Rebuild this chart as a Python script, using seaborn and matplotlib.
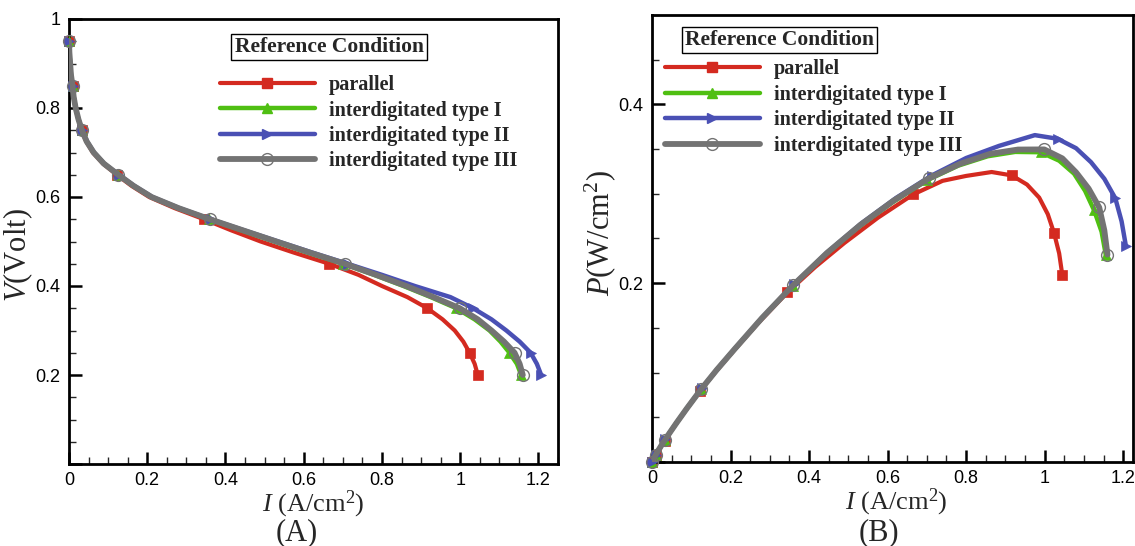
import matplotlib
matplotlib.use("Agg")
import matplotlib.pyplot as plt
from matplotlib.lines import Line2D
from matplotlib.ticker import MultipleLocator, FuncFormatter
import seaborn as sns

# data
#--------------------------------------
volt = [0.95, 0.925, 0.90, 0.875, 0.85, 0.825, 0.80, 0.775, 0.75, 0.725,
        0.70, 0.675, 0.65, 0.625, 0.60, 0.575, 0.55, 0.525, 0.50, 0.475,
        0.45, 0.425, 0.40, 0.375, 0.35, 0.325, 0.30, 0.275, 0.25, 0.225, 0.20]
marker_volt = [0.95, 0.85, 0.75, 0.65, 0.55, 0.45, 0.35, 0.25, 0.20]

cur_parallel = [0.0, 0.001, 0.003, 0.005, 0.009, 0.012, 0.017, 0.024, 0.032, 0.044,
                0.061, 0.087, 0.122, 0.16, 0.205, 0.27, 0.345, 0.415, 0.49, 0.575,
                0.665, 0.74, 0.80, 0.865, 0.916, 0.955, 0.986, 1.008, 1.024, 1.037, 1.045]
cur_type1 = [0.0, 0.001, 0.003, 0.005, 0.009, 0.012, 0.017, 0.024, 0.033, 0.045,
             0.063, 0.089, 0.125, 0.164, 0.21, 0.278, 0.358, 0.44, 0.525, 0.61,
             0.70, 0.78, 0.855, 0.925, 0.99, 1.037, 1.075, 1.103, 1.126, 1.145, 1.156]
cur_type2 = [0.0, 0.001, 0.003, 0.005, 0.009, 0.012, 0.017, 0.024, 0.034, 0.046,
             0.064, 0.09, 0.127, 0.167, 0.213, 0.282, 0.362, 0.448, 0.535, 0.622,
             0.712, 0.80, 0.884, 0.975, 1.033, 1.08, 1.118, 1.152, 1.18, 1.196, 1.207]
cur_type3 = [0.0, 0.001, 0.003, 0.005, 0.009, 0.012, 0.017, 0.024, 0.033, 0.045,
             0.063, 0.089, 0.126, 0.165, 0.211, 0.28, 0.36, 0.445, 0.53, 0.616,
             0.705, 0.785, 0.862, 0.932, 0.999, 1.045, 1.08, 1.112, 1.139, 1.152, 1.16]

labels = ["parallel", "interdigitated type I", "interdigitated type II", "interdigitated type III"]
currents = [cur_parallel, cur_type1, cur_type2, cur_type3]

# styles
colors = ["#d42a20", "#4fbf12", "#4a50b4", "#737373"]
markers = ["s", "^", ">", "o"]
widths = [3.0, 3.2, 3.2, 4.2]
msizes = [7, 6.5, 7, 8.5]

sns.set_theme(style="white")
plt.rcParams['font.family'] = ['Liberation Sans', 'DejaVu Sans']
plt.rcParams['mathtext.fontset'] = 'custom'
plt.rcParams['mathtext.rm'] = 'Liberation Serif'
plt.rcParams['mathtext.it'] = 'Liberation Serif:italic'

fig = plt.figure(figsize=(11.35, 5.46), dpi=100)
ax_v = fig.add_axes([69 / 1135, 1 - 464 / 546, 489 / 1135, 445 / 546])
ax_p = fig.add_axes([652 / 1135, 1 - 462 / 546, 481 / 1135, 447 / 546])

def pick(cur):
    return [c for c, v in zip(cur, volt) if v in marker_volt]

for k in range(4):
    cur = currents[k]
    power = [c * v for c, v in zip(cur, volt)]
    mcur = pick(cur)
    mpow = [c * v for c, v in zip(mcur, marker_volt)]
    face = "none" if markers[k] == "o" else colors[k]
    for ax, yy, myy in [(ax_v, volt, marker_volt), (ax_p, power, mpow)]:
        sns.lineplot(x=cur, y=yy, sort=False, estimator=None, color=colors[k],
                     lw=widths[k], ax=ax, zorder=2 + k,
                     solid_joinstyle="round", solid_capstyle="round")
        ax.plot(mcur, myy, ls="none", marker=markers[k], ms=msizes[k],
                mfc=face, mec=colors[k], mew=1.0 if markers[k] == "o" else 0.5,
                zorder=2 + k, clip_on=False)

def fmt(x, pos):
    return ("%g" % round(x, 2))

for ax in (ax_v, ax_p):
    ax.xaxis.set_major_locator(MultipleLocator(0.2))
    ax.xaxis.set_minor_locator(MultipleLocator(0.05))
    ax.yaxis.set_major_locator(MultipleLocator(0.2))
    ax.yaxis.set_minor_locator(MultipleLocator(0.05))
    ax.xaxis.set_major_formatter(FuncFormatter(fmt))
    ax.yaxis.set_major_formatter(FuncFormatter(lambda x, p: "" if abs(x) < 1e-9 else fmt(x, p)))
    ax.tick_params(which="major", direction="in", length=9, width=1.8, labelsize=13,
                   bottom=True, left=True, top=False, right=False, pad=6, colors="black")
    ax.tick_params(which="minor", direction="in", length=5, width=1.0,
                   bottom=True, left=True, top=False, right=False)
    for sp in ax.spines.values():
        sp.set_color("black")
        sp.set_linewidth(2.0)
    ax.set_xlabel("$I$ (A/cm$^2$)", fontsize=19, family="Liberation Serif")

ax_v.set_xlim(0, 1.25)
ax_v.set_ylim(0, 1.0)
ax_p.set_xlim(0, 1.225)
ax_p.set_ylim(0, 0.5)
ax_v.set_ylabel("$V$(Volt)", fontsize=22, family="Liberation Serif")
ax_p.set_ylabel("$P$(W/cm$^2$)", fontsize=22, family="Liberation Serif")

ax_v.xaxis.set_label_coords(0.5, -0.056)
ax_p.xaxis.set_label_coords(0.507, -0.056)
ax_v.yaxis.set_label_coords(-0.07, 0.47)
ax_p.yaxis.set_label_coords(-0.071, 0.512)

# legends
handles = [Line2D([], [], color=colors[k], lw=widths[k], marker=markers[k], ms=msizes[k],
                  mfc="none" if markers[k] == "o" else colors[k], mec=colors[k])
           for k in range(4)]
for ax, tx, ty, lx, ly in [(ax_v, 0.532, 0.937, 0.309, 0.874), (ax_p, 0.265, 0.944, 0.027, 0.901)]:
    ax.text(tx, ty, "Reference Condition", transform=ax.transAxes, ha="center", va="center",
            fontsize=15.5, fontweight="bold", family="Liberation Serif",
            bbox=dict(boxstyle="square,pad=0.15", fc="white", ec="black", lw=1.0))
    ax.legend(handles, labels, loc="upper left", bbox_to_anchor=(lx, ly), frameon=False,
              prop={"family": "Liberation Serif", "weight": "bold", "size": 14.5},
              handlelength=4.7, handletextpad=0.7, labelspacing=0.27, borderpad=0,
              borderaxespad=0, numpoints=1)

fig.text(297 / 1135, 1 - 533 / 546, "(A)", ha="center", va="center", fontsize=22,
         family="Liberation Serif")
fig.text(879 / 1135, 1 - 533 / 546, "(B)", ha="center", va="center", fontsize=22,
         family="Liberation Serif")

plt.savefig("out.png", dpi=100)
